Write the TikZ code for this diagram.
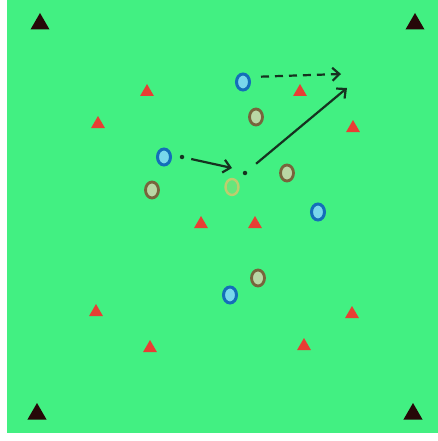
\documentclass[tikz,border=0pt]{standalone}
\usepackage{tikz}
\usetikzlibrary{arrows.meta,shapes.geometric}

\definecolor{pitch}{RGB}{66,240,130}
\definecolor{conered}{RGB}{232,62,52}
\definecolor{cornerdark}{RGB}{38,8,8}
\definecolor{bluering}{RGB}{20,110,185}
\definecolor{bluefill}{RGB}{120,215,235}
\definecolor{brownring}{RGB}{120,100,60}
\definecolor{brownfill}{RGB}{185,215,165}
\definecolor{paleyellow}{RGB}{190,205,110}
\definecolor{runline}{RGB}{22,50,32}

\begin{document}
\begin{tikzpicture}[
  x=1pt,
  y=-1pt,
  corner cone/.style={regular polygon, regular polygon sides=3,
    fill=cornerdark, inner sep=0pt, minimum size=22pt},
  cone/.style={regular polygon, regular polygon sides=3,
    fill=conered, inner sep=0pt, minimum size=16pt},
  blue player/.style={ellipse, draw=bluering, line width=3pt,
    fill=bluefill, inner sep=0pt, minimum width=13pt, minimum height=16pt},
  brown player/.style={ellipse, draw=brownring, line width=2.8pt,
    fill=brownfill, inner sep=0pt, minimum width=13pt, minimum height=16pt},
  ghost player/.style={ellipse, draw=paleyellow, line width=2.4pt,
    fill=pitch!70!paleyellow, inner sep=0pt, minimum width=13pt,
    minimum height=16pt},
  ball/.style={circle, fill=runline, inner sep=0pt, minimum size=4.5pt},
  pass/.style={draw=runline, line width=2.2pt,
    -{Straight Barb[length=7pt,width=13pt]}},
  run/.style={draw=runline, line width=2.2pt, dash pattern=on 8pt off 6pt,
    -{Straight Barb[length=7pt,width=13pt]}}
]
  \path[use as bounding box] (0,0) rectangle (438,441);

  % Pitch.
  \fill[pitch] (7,0) rectangle (438,433);

  % Corner markers.
  \node[corner cone] (nw) at (40,24) {};
  \node[corner cone] (ne) at (415,24) {};
  \node[corner cone] (sw) at (37,414) {};
  \node[corner cone] (se) at (413,414) {};

  % Red cones.
  \node[cone] (c1) at (147,92) {};
  \node[cone] (c2) at (300,92) {};
  \node[cone] (c3) at (98,124) {};
  \node[cone] (c4) at (353,128) {};
  \node[cone] (c5) at (201,224) {};
  \node[cone] (c6) at (255,224) {};
  \node[cone] (c7) at (96,312) {};
  \node[cone] (c8) at (352,314) {};
  \node[cone] (c9) at (150,348) {};
  \node[cone] (c10) at (304,346) {};

  % Blue team.
  \node[blue player] (b1) at (243,82) {};
  \node[blue player] (b2) at (164,157) {};
  \node[blue player] (b3) at (318,212) {};
  \node[blue player] (b4) at (230,295) {};

  % Brown team and the faded player.
  \node[brown player] (r1) at (256,117) {};
  \node[brown player] (r2) at (287,173) {};
  \node[brown player] (r3) at (152,190) {};
  \node[brown player] (r4) at (258,278) {};
  \node[ghost player] (g1) at (232,187) {};

  % Ball positions and movement.
  \node[ball] (ballA) at (182,157) {};
  \node[ball] (ballB) at (245,173) {};
  \coordinate (passEnd) at (232,168);
  \coordinate (runEnd) at (347,88);
  \coordinate (dashEnd) at (341,74);

  \draw[pass, shorten <=7pt] (ballA) -- (passEnd);
  \draw[pass, shorten <=12pt] (ballB) -- (runEnd);
  \draw[run, shorten <=10pt] ([yshift=5pt]b1.east) -- (dashEnd);
\end{tikzpicture}
\end{document}
